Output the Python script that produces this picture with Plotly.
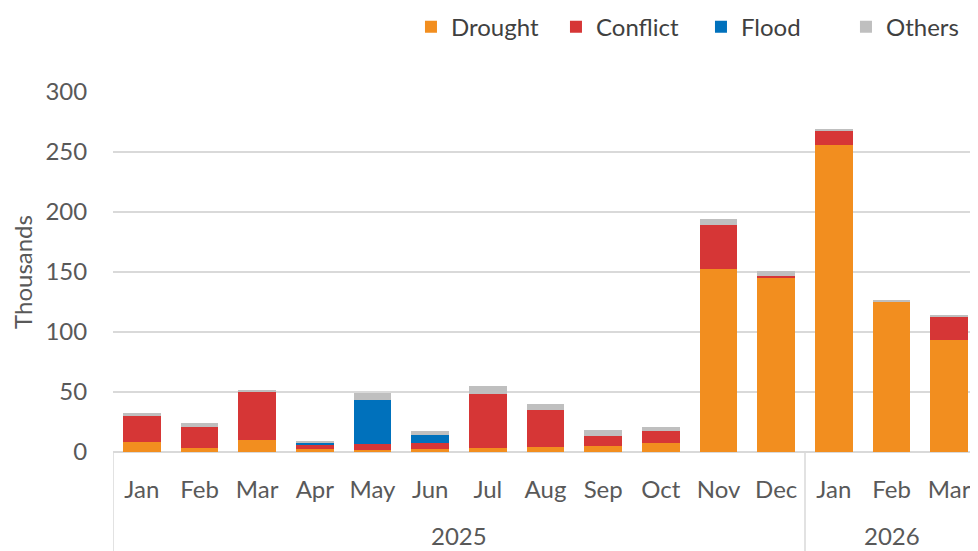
import plotly.graph_objects as go

years = ["2025"] * 12 + ["2026"] * 3
months = ["Jan", "Feb", "Mar", "Apr", "May", "Jun", "Jul", "Aug", "Sep", "Oct", "Nov", "Dec",
          "Jan", "Feb", "Mar"]

drought = [8.7, 3.5, 9.8, 2.7, 1.8, 2.7, 3.2, 4.3, 5.2, 7.9, 152.2, 145.0, 256.0, 125.8, 93.0]
conflict = [21.7, 17.1, 40.2, 3.8, 5.0, 4.4, 45.3, 31.1, 8.3, 9.4, 37.0, 1.9, 11.5, 0.0, 19.8]
flood = [0.0, 0.0, 0.0, 1.6, 36.7, 7.2, 0.0, 0.0, 0.0, 0.0, 0.0, 0.0, 0.0, 0.0, 0.0]
others = [1.9, 3.7, 2.0, 1.2, 5.5, 3.6, 6.1, 4.8, 4.7, 3.7, 5.2, 3.7, 1.5, 0.8, 1.0]

series = [
    ("Drought", drought, "#F28E1F"),
    ("Conflict", conflict, "#D63636"),
    ("Flood", flood, "#0071BC"),
    ("Others", others, "#BFBFBF"),
]

# category positions (index) derived from the data lists
xpos = list(range(len(months)))

fig = go.Figure()
for name, vals, color in series:
    fig.add_trace(go.Bar(
        x=xpos, y=vals, name=name,
        marker=dict(color=color, line=dict(width=0)),
    ))

# year group labels and dividers, computed from the year list
groups = []
for i, y in enumerate(years):
    if not groups or groups[-1][0] != y:
        groups.append([y, i, i])
    else:
        groups[-1][2] = i

PLOT_H = 360.0
BOTTOM = 99.0
annotations = []
shapes = []
for y, start, end in groups:
    annotations.append(dict(
        x=(start + end) / 2, y=-83.5 / PLOT_H, xref="x", yref="paper",
        text=y, showarrow=False, yanchor="middle",
        font=dict(size=24, color="#595959"),
    ))
    shapes.append(dict(type="line", xref="x", yref="paper",
                       x0=start - 0.5, x1=start - 0.5, y0=0, y1=-BOTTOM / PLOT_H,
                       line=dict(color="#D9D9D9", width=1.5)))

font_family = "Lato, 'Open Sans', sans-serif"
fig.update_layout(
    barmode="stack",
    bargap=0.35,
    width=970, height=543,
    margin=dict(l=105, r=0, t=84, b=BOTTOM, autoexpand=False),
    plot_bgcolor="white", paper_bgcolor="white",
    font=dict(family=font_family, size=24, color="#595959"),
    legend=dict(
        orientation="h", x=1.015, xanchor="right", y=1.18, yanchor="middle",
        font=dict(size=24, color="#404040"),
        traceorder="normal", entrywidth=100, entrywidthmode="pixels",
    ),
    annotations=annotations,
    shapes=shapes,
    yaxis=dict(
        automargin=False,
        range=[0, 300], tickvals=[0, 50, 100, 150, 200, 250, 300],
        showgrid=True, gridcolor="#D9D9D9", gridwidth=1.5,
        zeroline=True, zerolinecolor="#D9D9D9", zerolinewidth=1.5,
        title=dict(text="Thousands", font=dict(size=24, color="#595959"), standoff=8),
        ticks="outside", ticklen=20, tickcolor="rgba(0,0,0,0)",
    ),
    xaxis=dict(
        automargin=False,
        range=[-0.5, len(months) - 0.5],
        tickvals=xpos, ticktext=months,
        showgrid=False, showline=False, zeroline=False,
        ticks="outside", ticklen=16, tickcolor="rgba(0,0,0,0)",
        tickfont=dict(size=24, color="#595959"),
    ),
)

fig.write_html("out.html")
